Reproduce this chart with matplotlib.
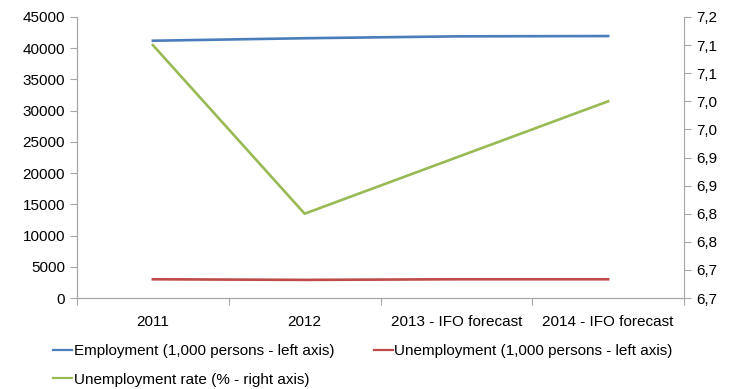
import matplotlib
matplotlib.use("Agg")
import matplotlib.pyplot as plt
import numpy as np

plt.rcParams["font.family"] = ["Liberation Sans", "DejaVu Sans"]

years = ["2011", "2012", "2013 - IFO forecast", "2014 - IFO forecast"]
employment = [41200, 41600, 41900, 41950]
unemployment = [3000, 2900, 3000, 3000]
unemp_rate = [7.15, 6.85, 6.95, 7.05]

left_ticks = list(range(0, 45001, 5000))
right_ticks = [6.70, 6.75, 6.80, 6.85, 6.90, 6.95, 7.00, 7.05, 7.10, 7.15, 7.20]
right_labels = ["6,7", "6,7", "6,8", "6,8", "6,9", "6,9", "7,0", "7,0", "7,1", "7,1", "7,2"]

BLUE, RED, GREEN = "#4A7EBB", "#BE4B48", "#98B954"
AXIS = "#A6A6A6"

fig = plt.figure(figsize=(7.33, 3.89), dpi=100)
ax = fig.add_axes([77 / 733, 1 - 298 / 389, (684 - 77) / 733, (298 - 17) / 389])
ax2 = ax.twinx()

x = np.arange(len(years))
l1, = ax.plot(x, employment, color=BLUE, lw=1.9)
l2, = ax.plot(x, unemployment, color=RED, lw=1.9)
l3, = ax2.plot(x, unemp_rate, color=GREEN, lw=1.9)

ax.set_xlim(-0.5, len(years) - 0.5)
ax.set_ylim(0, 45000)
ax.set_yticks(left_ticks)
ax.set_yticklabels([str(t) for t in left_ticks], fontsize=11)
ax2.set_ylim(6.7, 7.2)
ax2.set_yticks(right_ticks)
ax2.set_yticklabels(right_labels, fontsize=11)

ax.set_xticks(np.arange(len(years) + 1) - 0.5, minor=False)
ax.set_xticklabels([])
ax.set_xticks(x, minor=True)
ax.set_xticklabels(years, minor=True, fontsize=11)
ax.tick_params(axis="x", which="major", length=5, color=AXIS, direction="out")
ax.tick_params(axis="x", which="minor", length=0, pad=12)
ax.tick_params(axis="y", length=5, color=AXIS)
ax2.tick_params(axis="y", length=5, color=AXIS)

for a in (ax, ax2):
    a.spines["top"].set_visible(False)
    a.spines["left"].set_color(AXIS)
    a.spines["right"].set_color(AXIS)
    a.spines["bottom"].set_color(AXIS)
ax.spines["right"].set_visible(False)

# column-major fill: pass [E, rate, U] so rows read E | U, then rate
leg = fig.legend(
    [l1, l3, l2],
    ["Employment (1,000 persons - left axis)",
     "Unemployment rate (% - right axis)",
     "Unemployment (1,000 persons - left axis)"],
    loc="upper left", bbox_to_anchor=(53 / 733, 1 - 344 / 389),
    ncol=2, frameon=False, fontsize=11, handlelength=1.25, handletextpad=0.1,
    columnspacing=2.6, labelspacing=0.95, borderaxespad=0, borderpad=0,
)
for h in leg.legend_handles:
    h.set_linewidth(1.6)

fig.savefig("out.png", dpi=100)
